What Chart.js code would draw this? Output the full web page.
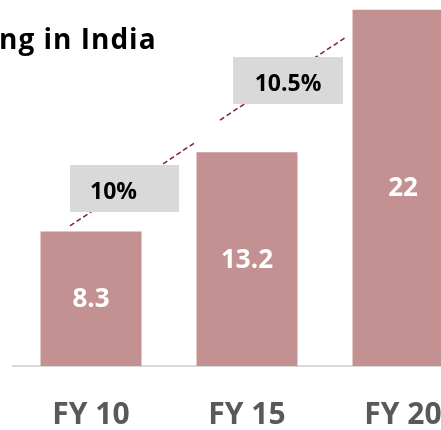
<!DOCTYPE html>
<html>
<head>
<meta charset="utf-8">
<script src="https://cdn.jsdelivr.net/npm/chart.js@4/dist/chart.umd.min.js"></script>
<style>
	html, body { margin: 0; padding: 0; background: #fff; overflow: hidden; width: 441px; height: 430px; }
	#wrap { position: absolute; left: 0; top: 0; width: 481px; height: 430px; }
	#title { position: absolute; left: -1px; top: 19px; font: bold 28px "Open Sans", sans-serif; letter-spacing: 1px; color: #000; white-space: nowrap; }
</style>
</head>
<body>
<div id="wrap"><canvas id="chart"></canvas></div>
<div id="title">ng in India</div>
<script>
const categories = ['FY 10', 'FY 15', 'FY 20'];
const values = [8.3, 13.2, 22];
const cagr_labels = ['10%', '10.5%'];
// dashed growth lines, x in category units (0 = first bar centre)
const cagr_line_1 = [{ x: -0.135, y: 8.65 }, { x: 0.673, y: 13.84 }];
const cagr_line_2 = [{ x: 0.827, y: 15.19 }, { x: 1.628, y: 20.26 }];

const bar_color = '#c39191';
const line_color = '#7b1f4b';

// white value labels in the middle of each bar
const bar_labels = {
	id: 'bar_labels',
	afterDatasetsDraw(chart) {
		const ctx = chart.ctx;
		const meta = chart.getDatasetMeta(0);
		ctx.save();
		ctx.fillStyle = '#fff';
		ctx.font = 'bold 26px "Open Sans"';
		ctx.textAlign = 'center';
		ctx.textBaseline = 'middle';
		meta.data.forEach((bar, i) => {
			ctx.fillText(String(values[i]), bar.x, (bar.y + bar.base) / 2 + 1);
		});
		ctx.restore();
	}
};

// grey boxes holding the growth rates
const cagr_boxes = {
	id: 'cagr_boxes',
	afterDatasetsDraw(chart, args, opts) {
		const ctx = chart.ctx;
		const xs = chart.scales.x2;
		const ys = chart.scales.y;
		ctx.save();
		opts.boxes.forEach((b, i) => {
			const cx = xs.getPixelForValue(b.x);
			const cy = ys.getPixelForValue(b.y);
			ctx.fillStyle = '#d9d9d9';
			ctx.fillRect(cx - b.w / 2, cy - b.h / 2, b.w, b.h);
			ctx.fillStyle = '#000';
			ctx.font = 'bold 23px "Open Sans"';
			ctx.textAlign = 'center';
			ctx.textBaseline = 'middle';
			ctx.fillText(cagr_labels[i], cx + b.dx, cy + 4);
		});
		ctx.restore();
	}
};

new Chart(document.getElementById('chart'), {
	type: 'bar',
	data: {
		labels: categories,
		datasets: [
			{
				data: values,
				backgroundColor: bar_color,
				grouped: false,
				categoryPercentage: 1,
				barPercentage: 0.647,
				order: 2
			},
			{
				type: 'line',
				data: cagr_line_1,
				xAxisID: 'x2',
				borderColor: line_color,
				borderWidth: 1.5,
				borderDash: [5, 3],
				pointRadius: 0,
				fill: false,
				order: 1
			},
			{
				type: 'line',
				data: cagr_line_2,
				xAxisID: 'x2',
				borderColor: line_color,
				borderWidth: 1.5,
				borderDash: [5, 3],
				pointRadius: 0,
				fill: false,
				order: 1
			}
		]
	},
	options: {
		responsive: true,
		maintainAspectRatio: false,
		animation: false,
		layout: { padding: { left: 13, right: 0, top: 0, bottom: 0 } },
		plugins: {
			legend: { display: false },
			tooltip: { enabled: false },
			cagr_boxes: {
				boxes: [
					{ x: 0.215, y: 10.96, w: 109, h: 47, dx: -11 },
					{ x: 1.263, y: 17.63, w: 110, h: 47, dx: 0 }
				]
			}
		},
		scales: {
			x: {
				grid: { display: false, drawTicks: false },
				border: { display: true, color: '#d9d9d9', width: 2 },
				ticks: {
					color: '#595959',
					font: { family: 'Open Sans', size: 30, weight: 'bold' },
					padding: 31,
					maxRotation: 0
				},
				afterFit(scale) { scale.height = 64; }
			},
			x2: {
				type: 'linear',
				display: false,
				offset: false,
				grid: { offset: false },
				min: -0.5,
				max: 2.5
			},
			y: {
				display: false,
				min: 0,
				max: 22.6
			}
		}
	},
	plugins: [bar_labels, cagr_boxes]
});
</script>
</body>
</html>
